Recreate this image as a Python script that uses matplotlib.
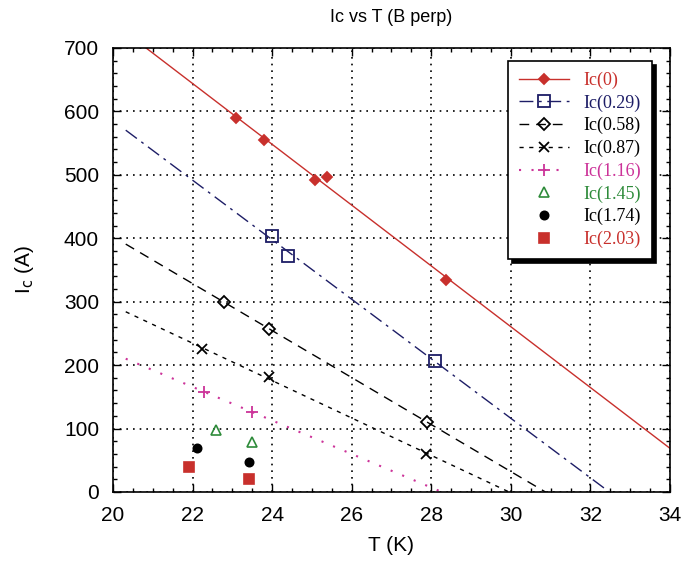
import matplotlib
matplotlib.use('Agg')
import matplotlib.pyplot as plt
import numpy as np

# Datos: T (K) e Ic (A) para cada campo B
T_0 = [23.09, 23.79, 25.08, 25.37, 28.38]
I_0 = [589, 555, 492, 497, 334]
T_029 = [24.0, 24.4, 28.1]
I_029 = [404, 372, 206]
T_058 = [22.8, 23.93, 27.9]
I_058 = [299, 257, 110]
T_087 = [22.23, 23.92, 27.88]
I_087 = [225, 182, 60]
T_116 = [22.29, 23.5]
I_116 = [158, 126]
T_145 = [22.6, 23.5]
I_145 = [98, 79]
T_174 = [22.1, 23.42]
I_174 = [70, 48]
T_203 = [21.92, 23.42]
I_203 = [40, 21]

etiquetas = ['Ic(0)', 'Ic(0.29)', 'Ic(0.58)', 'Ic(0.87)', 'Ic(1.16)',
             'Ic(1.45)', 'Ic(1.74)', 'Ic(2.03)']

rojo = '#c8302c'
azul = '#1d1d66'
rosa = '#cc3399'
verde = '#2e8b3a'
negro = 'black'

fig = plt.figure(figsize=(6.84, 5.74), dpi=100)
ax = fig.add_axes([0.1652, 0.1429, 0.8143, 0.7735])

T_fit = np.linspace(20.32, 34, 50)

def recta(T, I):
    p = np.polyfit(T, I, 1)
    return np.polyval(p, T_fit)

# series con recta de ajuste
series = [
    (T_0, I_0, rojo, '-', 'D', rojo, 5),
    (T_029, I_029, azul, (0, (10, 4, 2, 4)), 's', 'none', 8),
    (T_058, I_058, negro, (0, (7, 5)), 'D', 'none', 6),
    (T_087, I_087, negro, (0, (3, 4)), 'x', negro, 7),
    (T_116, I_116, rosa, (0, (1, 5)), '+', rosa, 9),
]
handles = []
for T, I, c, ls, mk, fc, ms in series:
    lw = 1.5 if c == rosa else 1.0
    ax.plot(T_fit, recta(T, I), color=c, linestyle=ls, linewidth=lw)
    ax.plot(T, I, linestyle='none', marker=mk, color=c, markerfacecolor=fc,
            markersize=ms, markeredgewidth=1.3)
    h, = ax.plot([], [], color=c, linestyle=ls, linewidth=lw, marker=mk,
                 markerfacecolor=fc, markersize=ms, markeredgewidth=1.3)
    handles.append(h)

# series solo con puntos
puntos = [
    (T_145, I_145, verde, '^', 'none', 7),
    (T_174, I_174, negro, 'o', negro, 6),
    (T_203, I_203, rojo, 's', rojo, 7),
]
for T, I, c, mk, fc, ms in puntos:
    h, = ax.plot(T, I, linestyle='none', marker=mk, color=c,
                 markerfacecolor=fc, markersize=ms, markeredgewidth=1.2)
    handles.append(h)

ax.set_xlim(20, 34)
ax.set_ylim(0, 700)
ax.set_xticks(np.arange(20, 35, 2))
ax.set_yticks(np.arange(0, 701, 100))
ax.set_xticks(np.arange(20, 34.01, 0.5), minor=True)
ax.set_yticks(np.arange(0, 701, 20), minor=True)
ax.tick_params(which='both', direction='in', top=True, right=True)
ax.tick_params(which='major', length=6, width=1, pad=10, labelsize=15)
ax.tick_params(which='minor', length=3, width=1)
for lab in ax.get_xticklabels() + ax.get_yticklabels():
    lab.set_fontfamily('Liberation Sans')
for s in ax.spines.values():
    s.set_linewidth(1.2)

ax.grid(True, which='major', color='black', linestyle=(0, (1, 3)), linewidth=1.2)

ax.set_title('Ic vs T (B perp)', fontsize=13, pad=19, family='Liberation Sans')
ax.set_xlabel('T (K)', fontsize=15, family='Liberation Sans', labelpad=8)
ax.set_ylabel(r'I$_\mathrm{c}$ (A)', fontsize=15, family='Liberation Sans', labelpad=20)

colores_txt = [rojo, azul, negro, negro, rosa, verde, negro, rojo]
leg = ax.legend(handles, etiquetas, loc='upper right', bbox_to_anchor=(0.968, 0.971),
                prop={'family': 'Liberation Serif', 'size': 13}, labelcolor=colores_txt,
                handlelength=2.8, labelspacing=0.3, borderpad=0.6, borderaxespad=0,
                fancybox=False, framealpha=1, edgecolor='black',
                shadow={'color': 'black', 'alpha': 1, 'ox': 3, 'oy': -3})
leg.get_frame().set_linewidth(1.2)

fig.savefig('out.png', dpi=100)
